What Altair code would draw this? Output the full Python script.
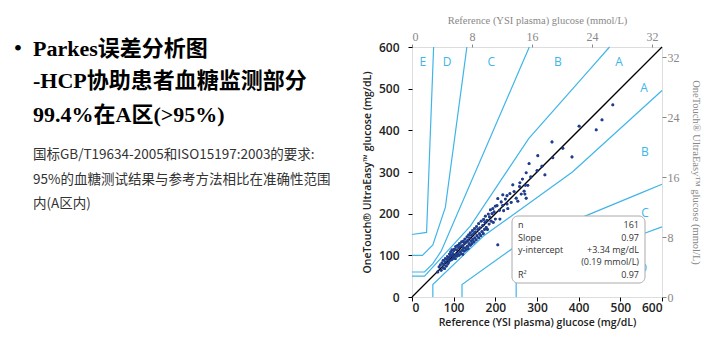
import altair as alt
import pandas as pd

# ---------------- data ----------------
ref = [62,65,68,70,72,74,75,76,78,80,80,82,84,85,86,88,88,90,90,92,93,94,95,96,97,98,99,100,100,102,
       103,104,105,106,107,108,110,110,112,113,114,115,116,118,119,120,121,122,123,124,125,126,127,128,130,
       130,132,133,134,135,136,137,138,140,140,142,143,144,145,146,148,149,150,151,152,154,155,156,158,160,
       160,162,163,165,166,168,170,171,172,174,175,176,178,180,181,183,185,186,188,190,192,194,195,197,200,
       200,204,206,206,210,211,214,218,218,220,224,228,228,230,235,238,242,245,250,254,258,259,262,265,269,
       271,272,274,274,278,281,285,300,302,312,319,336,338,362,384,401,442,456,482]
meter = [60,72,77,64,82,70,88,78,68,84,92,74,90,97,79,94,83,103,87,98,108,89,100,113,91,104,94,111,97,115,
         99,92,121,103,113,98,124,104,118,100,128,108,121,104,132,112,123,102,134,117,110,129,139,118,132,
         113,144,122,136,116,149,128,142,124,154,134,148,128,159,138,152,132,164,142,156,137,169,147,162,142,
         176,152,166,147,182,157,172,152,186,162,179,194,167,184,162,199,175,192,209,182,200,212,179,204,187,
         218,219,236,125,208,187,228,245,220,207,235,243,223,212,248,227,269,253,237,230,265,274,247,283,254,
         247,268,237,298,268,320,288,303,339,314,293,372,334,357,336,410,401,425,461]

zones = {
    "A_upper": ([0, 30, 140, 280, 430, 474.1], [50, 50, 170, 380, 550, 600]),
    "A_lower": ([50, 50, 170, 385, 550, 600], [0, 30, 145, 300, 450, 495.5]),
    "B_upper": ([0, 30, 50, 70, 260, 281.6], [60, 60, 80, 110, 550, 600]),
    "B_lower": ([120, 120, 260, 550, 600], [0, 30, 130, 250, 270.7]),
    "C_upper": ([0, 25, 50, 80, 125, 131.7], [100, 100, 125, 215, 550, 600]),
    "C_lower": ([250, 250, 550, 600], [0, 40, 150, 168.3]),
    "D_upper": ([0, 35, 50, 51.9], [150, 155, 550, 600]),
}

zone_labels = ["E", "D", "C", "B", "A", "A", "B", "C", "D"]
zone_label_x = [26, 84, 190, 350, 497, 557, 559, 559, 554]
zone_label_y = [565, 565, 565, 565, 565, 501, 349, 201, 70]

mg_ticks = [0, 100, 200, 300, 400, 500, 600]
mmol_ticks = [0, 8, 16, 24, 32]

stat_names = ["n", "Slope", "y-intercept", "", "R²"]
stat_vals = ["161", "0.97", "+3.34 mg/dL", "(0.19 mmol/L)", "0.97"]

title_lines = ["Parkes误差分析图", "-HCP协助患者血糖监测部分", "99.4%在A区(>95%)"]
note_lines = ["国标GB/T19634-2005和ISO15197:2003的要求:",
              "95%的血糖测试结果与参考方法相比在准确性范围",
              "内(A区内)"]

# ---------------- build tables ----------------
rows = []
for name, (xs, ys) in zones.items():
    for i, (a, b) in enumerate(zip(xs, ys)):
        rows.append({"line": name, "idx": i, "x": a, "y": b})
df_lines = pd.DataFrame(rows)
df_pts = pd.DataFrame({"x": ref, "y": meter})
df_diag = pd.DataFrame({"x": [0, 600], "y": [0, 600]})
df_lab = pd.DataFrame({"t": zone_labels, "x": zone_label_x, "y": zone_label_y})

BLUE = "#40b5e8"
SANS = "Open Sans"
SERIF = "Liberation Serif"

xs_mg = alt.Scale(domain=[0, 600], nice=False, zero=False)
ys_mg = alt.Scale(domain=[0, 600], nice=False, zero=False)

x_axis = alt.Axis(values=mg_ticks, title="Reference (YSI plasma) glucose (mg/dL)",
                  orient="bottom", grid=False, domain=False, tickSize=4, tickColor="black",
                  labelFont=SANS, labelFontSize=12, labelColor="#222", labelPadding=1,
                  labelFontWeight=600,
                  titleFont=SANS, titleFontSize=10.5, titleFontWeight=600,
                  titleColor="#222", titlePadding=4)
y_axis = alt.Axis(values=mg_ticks, title="OneTouch® UltraEasy™ glucose (mg/dL)",
                  orient="left", grid=False, domain=False, tickSize=4, tickColor="black",
                  labelFont=SANS, labelFontSize=12, labelColor="#222", labelPadding=9,
                  labelFontWeight=600,
                  titleFont=SANS, titleFontSize=10.5, titleFontWeight=600,
                  titleColor="#222", titlePadding=6)

X = alt.X("x:Q", scale=xs_mg, axis=x_axis)
Y = alt.Y("y:Q", scale=ys_mg, axis=y_axis)

lines = alt.Chart(df_lines).mark_line(color=BLUE, strokeWidth=1.2).encode(
    x=X, y=Y, detail="line:N", order="idx:Q",
)
diag = alt.Chart(df_diag).mark_line(color="black", strokeWidth=1.3).encode(x=X, y=Y)
labs = alt.Chart(df_lab).mark_text(color=BLUE, font=SANS, fontSize=12).encode(
    x=X, y=Y, text="t:N",
)
pts = alt.Chart(df_pts).mark_circle(color="#1f3f8e", size=8, opacity=1).encode(x=X, y=Y)

box = alt.Chart(pd.DataFrame({"k": [0]})).mark_rect(
    fill="white", stroke="#aaaaaa", strokeWidth=1, cornerRadius=6
).encode(x=alt.value(100), x2=alt.value(233), y=alt.value(169), y2=alt.value(236))

box_texts = []
row_y = [178, 191, 203, 215, 228]
for nm, vl, yy in zip(stat_names, stat_vals, row_y):
    if nm:
        box_texts.append(alt.Chart(pd.DataFrame({"t": [nm]})).mark_text(
            align="left", baseline="middle", font=SANS, fontSize=9, color="#333"
        ).encode(text="t:N", x=alt.value(106), y=alt.value(yy)))
    box_texts.append(alt.Chart(pd.DataFrame({"t": [vl]})).mark_text(
        align="right", baseline="middle", font=SANS, fontSize=9, color="#333"
    ).encode(text="t:N", x=alt.value(227), y=alt.value(yy)))

main = alt.layer(pts, lines, diag, labs, box, *box_texts, pts)

mmol = alt.Chart(pd.DataFrame({"mx": [0, 600 / 18], "my": [0, 600 / 18]})).mark_point(opacity=0).encode(
    x=alt.X("mx:Q", scale=alt.Scale(domain=[0, 600 / 18], nice=False, zero=False),
            axis=alt.Axis(values=mmol_ticks, orient="top", title="Reference (YSI plasma) glucose (mmol/L)",
                          grid=False, domain=False, tickSize=3, tickColor="#888",
                          labelFont=SERIF, labelFontSize=12, labelColor="#888", labelPadding=1,
                          titleFont=SERIF, titleFontSize=10.5, titleFontWeight="normal",
                          titleColor="#888", titlePadding=5)),
    y=alt.Y("my:Q", scale=alt.Scale(domain=[0, 600 / 18], nice=False, zero=False),
            axis=alt.Axis(values=mmol_ticks, orient="right", title="OneTouch® UltraEasy™ glucose (mmol/L)",
                          grid=False, domain=False, tickSize=4, tickColor="#888",
                          labelFont=SERIF, labelFontSize=12, labelColor="#888", labelPadding=1,
                          titleFont=SERIF, titleFontSize=10.5, titleFontWeight="normal",
                          titleColor="#888", titlePadding=11, titleAngle=90)),
)

# left-hand slide text (pixel positions relative to plot origin at x=412, y=47)
side = []
side.append(alt.Chart(pd.DataFrame({"t": ["•"]})).mark_text(
    align="center", baseline="alphabetic", font=SERIF, fontSize=24, color="black"
).encode(text="t:N", x=alt.value(18 - 412), y=alt.value(56 - 47)))
for txt, yy in zip(title_lines, [56, 88, 122]):
    side.append(alt.Chart(pd.DataFrame({"t": [txt]})).mark_text(
        align="left", baseline="alphabetic", font=SERIF + ", Noto Sans CJK SC", fontSize=22,
        fontWeight="bold", color="black"
    ).encode(text="t:N", x=alt.value(33 - 412), y=alt.value(yy - 47)))
for txt, yy in zip(note_lines, [155, 180, 204]):
    side.append(alt.Chart(pd.DataFrame({"t": [txt]})).mark_text(
        align="left", baseline="middle", font="Noto Sans CJK SC", fontSize=13.5,
        fontWeight="normal", color="#333"
    ).encode(text="t:N", x=alt.value(33 - 412), y=alt.value(yy - 47)))

chart = alt.layer(main, mmol, *side).resolve_scale(
    x="independent", y="independent"
).properties(
    width=250, height=250,
    autosize=alt.AutoSizeParams(type="none"),
    padding={"left": 412, "top": 47, "right": 46, "bottom": 46},
).configure_view(stroke="black", strokeWidth=1.2).configure(background="white")

chart.save("out.html", embed_options={"renderer": "svg", "actions": False})
